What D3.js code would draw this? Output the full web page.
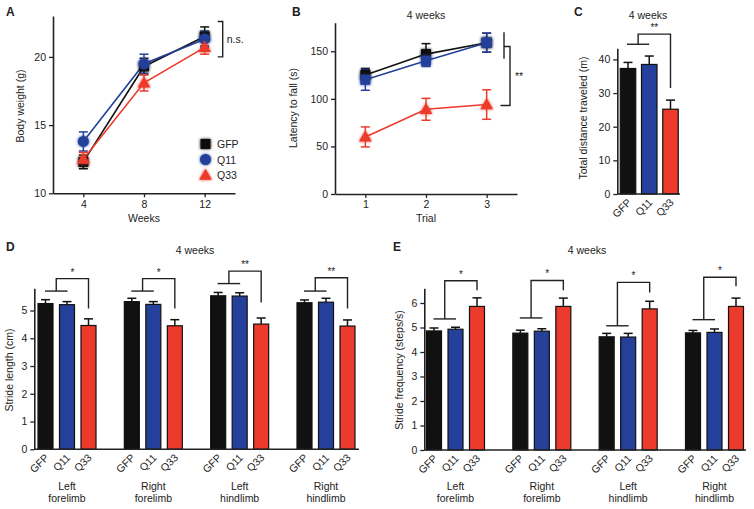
<!DOCTYPE html>
<html><head><meta charset="utf-8">
<script src="https://cdn.jsdelivr.net/npm/d3@7"></script>
<style>
body{margin:0;background:#fff;}
svg{display:block;font-family:"Liberation Sans",Arial,sans-serif;}
text{fill:#222;}
</style></head>
<body><svg id="c" width="754" height="509"></svg>
<script>
// ---------- data ----------
const genotypes = ["GFP", "Q11", "Q33"];
// A: body weight
const weeks = [4, 8, 12];
const bodyGFP = [12.3, 19.3, 21.5];
const bodyGFPErr = [0.5, 0.6, 0.7];
const bodyQ11 = [13.8, 19.5, 21.3];
const bodyQ11Err = [0.7, 0.7, 0.6];
const bodyQ33 = [12.5, 18.1, 20.7];
const bodyQ33Err = [0.5, 0.6, 0.5];
const bodyTicks = [10, 15, 20];
// B: latency to fall
const trials = [1, 2, 3];
const latGFP = [125, 147, 159];
const latGFPErr = [7, 11, 10];
const latQ11 = [120, 140, 159];
const latQ11Err = [11, 6, 10];
const latQ33 = [60, 89, 94];
const latQ33Err = [10.5, 11.5, 15.5];
const latTicks = [0, 50, 100, 150];
// C: total distance
const distance = [37.3, 38.5, 25.2];
const distanceErr = [1.8, 2.5, 2.7];
const distTicks = [0, 10, 20, 30, 40];
// D/E: gait
const limbs = ["Left forelimb", "Right forelimb", "Left hindlimb", "Right hindlimb"];
const strideLenGFP = [5.25, 5.32, 5.53, 5.28];
const strideLenGFPErr = [0.14, 0.12, 0.12, 0.1];
const strideLenQ11 = [5.21, 5.22, 5.52, 5.3];
const strideLenQ11Err = [0.11, 0.1, 0.12, 0.14];
const strideLenQ33 = [4.46, 4.45, 4.51, 4.44];
const strideLenQ33Err = [0.24, 0.22, 0.22, 0.22];
const strideLenSig = ["*", "*", "**", "**"];
const strideLenTicks = [0, 1, 2, 3, 4, 5];
const strideFreqGFP = [4.86, 4.77, 4.62, 4.78];
const strideFreqGFPErr = [0.12, 0.12, 0.14, 0.1];
const strideFreqQ11 = [4.93, 4.85, 4.61, 4.8];
const strideFreqQ11Err = [0.08, 0.1, 0.15, 0.14];
const strideFreqQ33 = [5.86, 5.86, 5.76, 5.86];
const strideFreqQ33Err = [0.35, 0.34, 0.31, 0.34];
const strideFreqSig = ["*", "*", "*", "*"];
const strideFreqTicks = [0, 1, 2, 3, 4, 5, 6];

// ---------- style ----------
const col = {GFP: "#111111", Q11: "#24409a", Q33: "#ec3a2c"};
const fmt = d3.format("d");
const svg = d3.select("#c");
const defs = svg.append("defs");
const f = defs.append("filter").attr("id", "glow").attr("x", "-50%").attr("y", "-50%").attr("width", "200%").attr("height", "200%");
f.append("feGaussianBlur").attr("in", "SourceGraphic").attr("stdDeviation", 1.8).attr("result", "b");
const fm = f.append("feMerge");
fm.append("feMergeNode").attr("in", "b");
fm.append("feMergeNode").attr("in", "SourceGraphic");

function styleAxis(g) {
  g.selectAll("path").attr("stroke", "#222").attr("stroke-width", 1.6);
  g.selectAll("line").attr("stroke", "#222").attr("stroke-width", 1.3);
  g.selectAll("text").attr("font-size", 10.5).attr("fill", "#222");
}
function panelLabel(x, y, t) {
  svg.append("text").attr("x", x).attr("y", y).attr("font-size", 12).attr("font-weight", "bold").text(t);
}
function titleText(x, y, t) {
  svg.append("text").attr("x", x).attr("y", y).attr("text-anchor", "middle").attr("font-size", 10.5).text(t);
}
function yLabel(x, y, t) {
  svg.append("text").attr("transform", `translate(${x},${y}) rotate(-90)`).attr("text-anchor", "middle").attr("font-size", 10.5).text(t);
}
function marker(g, shape, x, y, c) {
  if (shape === "square") g.append("rect").attr("x", x - 5).attr("y", y - 5).attr("width", 10).attr("height", 10).attr("fill", c).attr("filter", "url(#glow)");
  else if (shape === "circle") g.append("circle").attr("cx", x).attr("cy", y).attr("r", 5.5).attr("fill", c).attr("filter", "url(#glow)");
  else g.append("path").attr("d", d3.symbol(d3.symbolTriangle, 70)()).attr("transform", `translate(${x},${y + 1})`).attr("fill", c).attr("filter", "url(#glow)");
}

// ---------- line panels ----------
function linePanel(o) {
  const x = d3.scaleLinear().domain(o.xd).range(o.xr);
  const y = d3.scaleLinear().domain(o.yd).range(o.yr);
  const gx = svg.append("g").attr("transform", `translate(0,${o.yr[0]})`)
    .call(d3.axisBottom(x).tickValues(o.xt).tickFormat(fmt).tickSize(4).tickSizeOuter(0).tickPadding(3));
  styleAxis(gx);
  const gy = svg.append("g").attr("transform", `translate(${o.xr[0]},0)`)
    .call(d3.axisLeft(y).tickValues(o.yt).tickFormat(fmt).tickSize(4).tickSizeOuter(0).tickPadding(3));
  styleAxis(gy);
  const line = d3.line().x((d, i) => x(o.xs[i])).y(d => y(d));
  o.series.forEach(s => {
    const g = svg.append("g");
    g.append("path").datum(s.v).attr("d", line).attr("fill", "none").attr("stroke", col[s.k]).attr("stroke-width", 1.6);
    s.v.forEach((v, i) => {
      const cx = x(o.xs[i]), e = s.e[i];
      g.append("line").attr("x1", cx).attr("x2", cx).attr("y1", y(v - e)).attr("y2", y(v + e)).attr("stroke", col[s.k]).attr("stroke-width", 1.5);
      [v - e, v + e].forEach(w => g.append("line").attr("x1", cx - 4.5).attr("x2", cx + 4.5).attr("y1", y(w)).attr("y2", y(w)).attr("stroke", col[s.k]).attr("stroke-width", 1.5));
    });
  });
  o.series.forEach(s => {
    const g = svg.append("g");
    s.v.forEach((v, i) => marker(g, s.shape, x(o.xs[i]), y(v), col[s.k]));
  });
  return {x, y};
}

// Panel A
const A = linePanel({
  xd: [2, 14], xr: [53, 235], yd: [10, 23], yr: [193.3, 16],
  xt: weeks, yt: bodyTicks, xs: weeks,
  series: [
    {k: "GFP", v: bodyGFP, e: bodyGFPErr, shape: "square"},
    {k: "Q11", v: bodyQ11, e: bodyQ11Err, shape: "circle"},
    {k: "Q33", v: bodyQ33, e: bodyQ33Err, shape: "triangle"}
  ]
});
panelLabel(6, 16, "A");
yLabel(24, 106, "Body weight (g)");
svg.append("text").attr("x", A.x(8)).attr("y", 222).attr("text-anchor", "middle").attr("font-size", 10.5).text("Weeks");
// n.s. bracket
(function () {
  const bx = 222.7, y1 = A.y(22.6), y2 = A.y(20);
  svg.append("path").attr("d", `M${bx - 5},${y1}H${bx}V${y2}H${bx - 5}`).attr("fill", "none").attr("stroke", "#222").attr("stroke-width", 1.4);
  svg.append("text").attr("x", bx + 4).attr("y", (y1 + y2) / 2 + 4).attr("font-size", 10.5).text("n.s.");
})();
// legend
const legendShapes = ["square", "circle", "triangle"];
genotypes.forEach((gname, i) => {
  const ly = 144 + i * 15.5;
  marker(svg.append("g"), legendShapes[i], 205.5, ly, col[gname]);
  svg.append("text").attr("x", 217).attr("y", ly + 4).attr("font-size", 10.5).text(gname);
});

// Panel B
const B = linePanel({
  xd: [0.5, 3.5], xr: [335, 517], yd: [0, 180], yr: [194, 22.7],
  xt: trials, yt: latTicks, xs: trials,
  series: [
    {k: "GFP", v: latGFP, e: latGFPErr, shape: "square"},
    {k: "Q11", v: latQ11, e: latQ11Err, shape: "square"},
    {k: "Q33", v: latQ33, e: latQ33Err, shape: "triangle"}
  ]
});
panelLabel(292, 16, "B");
titleText(B.x(2), 19, "4 weeks");
yLabel(297, 108, "Latency to fall (s)");
svg.append("text").attr("x", B.x(2)).attr("y", 222).attr("text-anchor", "middle").attr("font-size", 10.5).text("Trial");
(function () {
  svg.append("line").attr("x1", 504).attr("x2", 504).attr("y1", B.y(170)).attr("y2", B.y(142)).attr("stroke", "#222").attr("stroke-width", 1.4);
  const yt = B.y(155), yb = B.y(93);
  svg.append("path").attr("d", `M504,${yt}H510V${yb}H500.5`).attr("fill", "none").attr("stroke", "#222").attr("stroke-width", 1.4);
  svg.append("text").attr("x", 515).attr("y", (yt + yb) / 2 + 4).attr("font-size", 10.5).text("**");
})();

// ---------- bar panels ----------
function errBar(g, cx, top, errTop) {
  g.append("line").attr("x1", cx).attr("x2", cx).attr("y1", top).attr("y2", errTop).attr("stroke", "#111").attr("stroke-width", 1.5);
  g.append("line").attr("x1", cx - 4.5).attr("x2", cx + 4.5).attr("y1", errTop).attr("y2", errTop).attr("stroke", "#111").attr("stroke-width", 1.5);
}
function bracket(xl1, xl2, xr, yLeft, yTop, yRight, label) {
  const xm = (xl1 + xl2) / 2;
  svg.append("line").attr("x1", xl1).attr("x2", xl2).attr("y1", yLeft).attr("y2", yLeft).attr("stroke", "#222").attr("stroke-width", 1.4);
  svg.append("path").attr("d", `M${xm},${yLeft}V${yTop}H${xr}V${yRight}`).attr("fill", "none").attr("stroke", "#222").attr("stroke-width", 1.4);
  svg.append("text").attr("x", (xm + xr) / 2).attr("y", yTop - 3).attr("text-anchor", "middle").attr("font-size", 10).text(label);
}

// Panel C
(function () {
  const x = d3.scalePoint().domain(genotypes).range([628, 670.5]);
  const y = d3.scaleLinear().domain([0, 43.3]).range([194, 48.3]);
  const bw = 15.5;
  const g = svg.append("g");
  genotypes.forEach((k, i) => {
    errBar(g, x(k), y(distance[i]), y(distance[i] + distanceErr[i]));
    g.append("rect").attr("x", x(k) - bw / 2).attr("y", y(distance[i])).attr("width", bw).attr("height", y(0) - y(distance[i]))
      .attr("fill", col[k]).attr("stroke", "#111").attr("stroke-width", 1.2);
  });
  const gy = svg.append("g").attr("transform", "translate(617.3,0)")
    .call(d3.axisLeft(y).tickValues(distTicks).tickFormat(fmt).tickSize(4).tickSizeOuter(0).tickPadding(3));
  styleAxis(gy);
  svg.append("line").attr("x1", 617.3).attr("x2", 680).attr("y1", y(0)).attr("y2", y(0)).attr("stroke", "#222").attr("stroke-width", 1.6);
  genotypes.forEach(k => {
    svg.append("text").attr("transform", `translate(${x(k) + 4},${y(0) + 9}) rotate(-45)`).attr("text-anchor", "end").attr("font-size", 10.5).text(k);
  });
  panelLabel(574, 16, "C");
  titleText(648, 19, "4 weeks");
  yLabel(587, 118, "Total distance traveled (m)");
  bracket(x("GFP") - 1, x("Q11"), x("Q33"), y(44.5), y(47.5), y(31.5), "**");
})();

// Panels D & E
function gaitPanel(o) {
  const gx = d3.scalePoint().domain(limbs).range(o.groupRange);
  const ix = d3.scalePoint().domain(genotypes).range([-21.5, 21.5]);
  const y = d3.scaleLinear().domain(o.yd).range(o.yr);
  const bw = 15;
  const vals = {GFP: o.gfp, Q11: o.q11, Q33: o.q33};
  const errs = {GFP: o.gfpE, Q11: o.q11E, Q33: o.q33E};
  const g = svg.append("g");
  limbs.forEach((l, li) => {
    genotypes.forEach(k => {
      const cx = gx(l) + ix(k), v = vals[k][li], e = errs[k][li];
      errBar(g, cx, y(v), y(v + e));
      g.append("rect").attr("x", cx - bw / 2).attr("y", y(v)).attr("width", bw).attr("height", y(0) - y(v))
        .attr("fill", col[k]).attr("stroke", "#111").attr("stroke-width", 1.2);
      svg.append("text").attr("transform", `translate(${cx + 4},${y(0) + 9}) rotate(-45)`).attr("text-anchor", "end").attr("font-size", 10.5).text(k);
    });
    const parts = l.split(" ");
    svg.append("text").attr("x", gx(l)).attr("y", 490).attr("text-anchor", "middle").attr("font-size", 10.5).text(parts[0]);
    svg.append("text").attr("x", gx(l)).attr("y", 502).attr("text-anchor", "middle").attr("font-size", 10.5).text(parts[1]);
    const b = o.br[li];
    bracket(gx(l) + ix("GFP") - 0.5, gx(l) + ix("Q11") + 0.5, gx(l) + ix("Q33"), y(b[0]), y(b[1]), y(b[2]), o.sig[li]);
  });
  const gy = svg.append("g").attr("transform", `translate(${o.x0},0)`)
    .call(d3.axisLeft(y).tickValues(o.yt).tickFormat(fmt).tickSize(4).tickSizeOuter(0).tickPadding(3));
  styleAxis(gy);
  svg.append("line").attr("x1", o.x0).attr("x2", o.x1).attr("y1", y(0)).attr("y2", y(0)).attr("stroke", "#222").attr("stroke-width", 1.6);
  titleText(o.titleX, 254, "4 weeks");
  panelLabel(o.labelX, 251, o.label);
  yLabel(o.ylabX, 370, o.ylab);
}
gaitPanel({
  groupRange: [67, 326], yd: [0, 5.8], yr: [449.3, 288.3], yt: strideLenTicks, x0: 34.3, x1: 359,
  gfp: strideLenGFP, q11: strideLenQ11, q33: strideLenQ33,
  gfpE: strideLenGFPErr, q11E: strideLenQ11Err, q33E: strideLenQ33Err,
  sig: strideLenSig,
  br: [[5.7, 6.15, 5.07], [5.7, 6.15, 5.07], [5.97, 6.42, 5.29], [5.7, 6.18, 5.07]],
  titleX: 195, labelX: 6, label: "D", ylab: "Stride length (cm)", ylabX: 13
});
gaitPanel({
  groupRange: [455.5, 714.5], yd: [0, 6.6], yr: [450, 288.3], yt: strideFreqTicks, x0: 424.3, x1: 746,
  gfp: strideFreqGFP, q11: strideFreqQ11, q33: strideFreqQ33,
  gfpE: strideFreqGFPErr, q11E: strideFreqQ11Err, q33E: strideFreqQ33Err,
  sig: strideFreqSig,
  br: [[5.35, 6.91, 6.52], [5.39, 6.92, 6.52], [5.07, 6.84, 6.43], [5.32, 7.05, 6.68]],
  titleX: 587, labelX: 393, label: "E", ylab: "Stride frequency (steps/s)", ylabX: 403
});
</script></body></html>
